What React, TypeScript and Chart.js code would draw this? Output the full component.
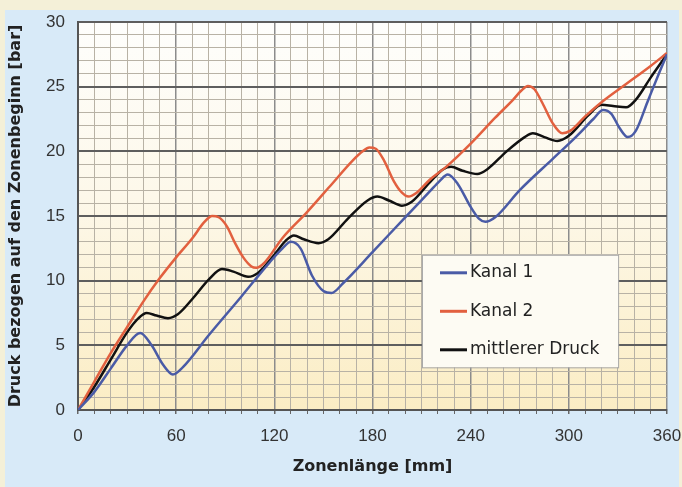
import React, { useEffect, useRef } from "react";
import { Chart, registerables } from "chart.js";

Chart.register(...registerables);

// ---- Data ----
const xTickLabels = [0, 60, 120, 180, 240, 300, 360];
const yTickLabels = [0, 5, 10, 15, 20, 25, 30];

const seriesLabels = ["Kanal 1", "Kanal 2", "mittlerer Druck"];

const kanal1X = [0, 10, 20, 30, 38, 45, 52, 58, 64, 80, 100, 117, 125, 130, 136, 143, 150, 155, 162, 180, 200, 215, 221, 226, 232, 240, 245, 249, 255, 270, 290, 305, 315, 321, 326, 331, 336, 341, 348, 355, 360];
const kanal1Y = [0, 1.4, 3.2, 5.0, 5.95, 5.0, 3.5, 2.75, 3.3, 5.8, 8.8, 11.4, 12.5, 13.0, 12.5, 10.4, 9.2, 9.05, 9.8, 12.2, 14.9, 16.9, 17.7, 18.2, 17.5, 15.7, 14.8, 14.55, 14.9, 17.0, 19.4, 21.2, 22.5, 23.2, 22.9, 21.8, 21.1, 21.6, 23.8, 26.0, 27.5];

const kanal2X = [0, 10, 20, 30, 40, 50, 60, 70, 77, 82, 86, 91, 96, 101, 106, 109, 114, 125, 140, 154, 168, 174, 178, 182, 187, 193, 198, 202, 207, 215, 225, 240, 255, 266, 271, 275, 279, 284, 290, 296, 301, 310, 320, 335, 350, 360];
const kanal2Y = [0, 2.2, 4.4, 6.4, 8.4, 10.2, 11.8, 13.3, 14.5, 15.0, 14.9, 14.2, 12.9, 11.8, 11.1, 11.0, 11.4, 13.3, 15.3, 17.3, 19.3, 20.0, 20.3, 20.2, 19.3, 17.7, 16.8, 16.5, 16.8, 17.8, 18.8, 20.6, 22.6, 24.0, 24.7, 25.05, 24.8, 23.7, 22.2, 21.4, 21.6, 22.7, 23.8, 25.2, 26.6, 27.6];

const mittelX = [0, 10, 20, 30, 37, 42, 48, 55, 61, 70, 80, 88, 95, 104, 110, 120, 127, 132, 138, 147, 153, 165, 177, 183, 190, 198, 204, 215, 223, 228, 235, 244, 250, 262, 273, 278, 285, 293, 300, 312, 320, 327, 335, 341, 350, 360];
const mittelY = [0, 1.8, 3.9, 6.0, 7.1, 7.5, 7.3, 7.1, 7.4, 8.6, 10.1, 10.9, 10.7, 10.3, 10.6, 12.0, 13.1, 13.5, 13.2, 12.9, 13.2, 14.8, 16.2, 16.5, 16.2, 15.8, 16.1, 17.6, 18.6, 18.8, 18.5, 18.25, 18.6, 20.0, 21.1, 21.4, 21.1, 20.8, 21.2, 22.8, 23.6, 23.5, 23.4, 24.0, 25.7, 27.5];

const COLORS = ["#4a5ba6", "#e2603f", "#111111"];

const toPoints = (xs: number[], ys: number[]) => xs.map((x, i) => ({ x, y: ys[i] }));

const plotBgPlugin = {
  id: "plotBg",
  beforeDraw(chart: any) {
    const { ctx, chartArea } = chart;
    if (!chartArea) return;
    const g = ctx.createLinearGradient(0, chartArea.top, 0, chartArea.bottom);
    g.addColorStop(0, "#fefefc");
    g.addColorStop(0.45, "#fdf8ea");
    g.addColorStop(1, "#fbedc4");
    ctx.save();
    ctx.fillStyle = g;
    ctx.fillRect(chartArea.left, chartArea.top, chartArea.right - chartArea.left, chartArea.bottom - chartArea.top);
    ctx.restore();
  },
};

const boxLegendPlugin = {
  id: "boxLegend",
  afterDatasetsDraw(chart: any) {
    const { ctx, chartArea } = chart;
    const w = chartArea.right - chartArea.left;
    const h = chartArea.bottom - chartArea.top;
    const bx = chartArea.left + w * 0.584;
    const by = chartArea.top + h * 0.6;
    const bw = w * 0.333;
    const bh = h * 0.29;
    ctx.save();
    ctx.fillStyle = "#fdfbf3";
    ctx.fillRect(bx, by, bw, bh);
    ctx.strokeStyle = "#a8a8a8";
    ctx.lineWidth = 1;
    ctx.strokeRect(bx + 0.5, by + 0.5, bw, bh);
    ctx.font = "17px 'DejaVu Sans'";
    ctx.textBaseline = "middle";
    ctx.textAlign = "left";
    chart.data.datasets.forEach((ds: any, i: number) => {
      const cy = by + 18 + i * 38.5;
      ctx.strokeStyle = ds.borderColor;
      ctx.lineWidth = 3;
      ctx.beginPath();
      ctx.moveTo(bx + 18, cy);
      ctx.lineTo(bx + 45, cy);
      ctx.stroke();
      ctx.fillStyle = "#222";
      ctx.fillText(ds.label, bx + 48, cy);
    });
    ctx.restore();
  },
};

export default function App() {
  const ref = useRef<HTMLCanvasElement | null>(null);

  useEffect(() => {
    if (!ref.current) return;
    const tickFont = { family: "'Liberation Sans Narrow', 'Liberation Sans', Arial, sans-serif", size: 17 };
    const chart = new Chart(ref.current, {
      type: "line",
      data: {
        datasets: [
          { label: seriesLabels[0], data: toPoints(kanal1X, kanal1Y), borderColor: COLORS[0] },
          { label: seriesLabels[1], data: toPoints(kanal2X, kanal2Y), borderColor: COLORS[1] },
          { label: seriesLabels[2], data: toPoints(mittelX, mittelY), borderColor: COLORS[2] },
        ].map((d) => ({
          ...d,
          borderWidth: 2.5,
          pointRadius: 0,
          fill: false,
          cubicInterpolationMode: "monotone" as const,
        })),
      },
      options: {
        responsive: false,
        animation: false,
        layout: { padding: { top: 22, right: 15, left: 0, bottom: 0 } },
        plugins: { legend: { display: false }, tooltip: { enabled: false } },
        scales: {
          x: {
            type: "linear",
            min: xTickLabels[0],
            max: xTickLabels[xTickLabels.length - 1],
            ticks: {
              stepSize: 10,
              autoSkip: false,
              maxRotation: 0,
              padding: 12,
              color: "#333",
              font: tickFont,
              callback: (v: any) => (xTickLabels.includes(Number(v)) ? String(v) : ""),
            },
            grid: {
              color: (c: any) => (c.tick && c.tick.value % 60 === 0 ? "#8c8c8c" : "#b8b2a5"),
              lineWidth: (c: any) => (c.tick && c.tick.value % 60 === 0 ? 1.5 : 1),
              drawTicks: true,
              tickLength: 4,
              tickColor: "#666",
            },
            border: { color: "#555", width: 2 },
            title: {
              display: true,
              text: "Zonenlänge [mm]",
              color: "#222",
              font: { family: "'DejaVu Sans'", size: 16, weight: "bold" },
              padding: { top: 11, bottom: 11 },
            },
            afterFit: (s: any) => {
              s.height = 77;
              s.paddingLeft = 0;
              s.paddingRight = 0;
            },
          },
          y: {
            type: "linear",
            min: yTickLabels[0],
            max: yTickLabels[yTickLabels.length - 1],
            ticks: {
              stepSize: 1,
              autoSkip: false,
              padding: 13,
              color: "#333",
              font: tickFont,
              callback: (v: any) => (yTickLabels.includes(Number(v)) ? String(v) : ""),
            },
            grid: {
              color: (c: any) => (c.tick && c.tick.value % 5 === 0 ? "#5e5e5e" : "#b8b2a5"),
              lineWidth: (c: any) => (c.tick && c.tick.value % 5 === 0 ? 2 : 1),
              drawTicks: false,
            },
            border: { color: "#555", width: 2 },
            title: {
              display: true,
              text: "Druck bezogen auf den Zonenbeginn [bar]",
              color: "#222",
              font: { family: "'DejaVu Sans'", size: 16, weight: "bold" },
              padding: { top: 6, bottom: 6 },
            },
            afterFit: (s: any) => {
              s.width = 78;
              s.paddingTop = 0;
              s.paddingBottom = 0;
            },
          },
        },
      },
      plugins: [plotBgPlugin, boxLegendPlugin],
    });
    return () => chart.destroy();
  }, []);

  return (
    <div style={{ position: "fixed", left: 0, top: 0, width: 682, height: 487, background: "#f4f0d8", overflow: "hidden" }}>
      <div style={{ position: "absolute", left: 5, top: 10, right: 3, bottom: 0, background: "#d8eaf8" }} />
      <canvas ref={ref} width={682} height={487} style={{ position: "absolute", left: 0, top: 0, width: 682, height: 487 }} />
    </div>
  );
}
